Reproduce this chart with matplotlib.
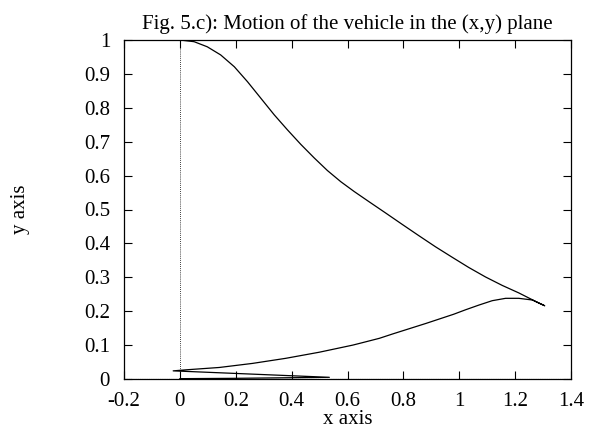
import matplotlib
matplotlib.use("Agg")
import matplotlib.pyplot as plt

# Trajectory of the vehicle
x_path = [0.0, 0.051, 0.098, 0.146, 0.195, 0.242, 0.290, 0.338, 0.385, 0.433, 0.481,
          0.528, 0.576, 0.624, 0.677, 0.736, 0.796, 0.855, 0.915, 0.975, 1.034,
          1.094, 1.154, 1.213, 1.273, 1.306,
          1.262, 1.213, 1.166, 1.118, 1.070, 1.022, 0.980, 0.881, 0.762, 0.714,
          0.643, 0.619, 0.499, 0.379, 0.260, 0.141, 0.021, -0.024,
          0.535, 0.20, 0.0]
y_path = [1.0, 0.995, 0.980, 0.956, 0.921, 0.877, 0.828, 0.779, 0.735, 0.692, 0.652,
          0.615, 0.582, 0.553, 0.523, 0.490, 0.456, 0.423, 0.390, 0.359, 0.329,
          0.301, 0.276, 0.254, 0.229, 0.216,
          0.233, 0.238, 0.238, 0.231, 0.218, 0.204, 0.191, 0.164, 0.133, 0.120,
          0.105, 0.100, 0.079, 0.061, 0.046, 0.034, 0.027, 0.024,
          0.005, 0.002, 0.001]

x_ticks = [-0.2, 0, 0.2, 0.4, 0.6, 0.8, 1, 1.2, 1.4]
y_ticks = [0, 0.1, 0.2, 0.3, 0.4, 0.5, 0.6, 0.7, 0.8, 0.9, 1]

FS = 15
plt.rcParams['font.family'] = ['Liberation Serif', 'DejaVu Serif']
plt.rcParams['font.size'] = FS

fig = plt.figure(figsize=(5.91, 4.32), dpi=100)
ax = fig.add_axes([124/591, 1-379/432, (571-124)/591, (379-40)/432])

# zero axes (dotted)
ax.axhline(0, color='#555555', lw=0.8, ls=(0, (1, 1)), zorder=1)
ax.plot([0, 0], [0, 1], color='black', lw=0.6, ls=(0, (1, 1.5)), zorder=1)

ax.plot(x_path, y_path, color='black', lw=0.9, zorder=2,
        solid_joinstyle='round')

ax.set_xlim(-0.2, 1.4)
ax.set_ylim(0, 1)
ax.set_xticks(x_ticks)
ax.set_yticks(y_ticks)
ax.set_xticklabels(['%g' % v for v in x_ticks])
ax.set_yticklabels(['%g' % v for v in y_ticks])
ax.tick_params(direction='in', length=6, width=0.8, top=True, right=True,
               labelsize=FS)
ax.tick_params(axis='x', pad=9)
ax.tick_params(axis='y', pad=10)
for s in ax.spines.values():
    s.set_linewidth(0.9)

ax.set_title('Fig. 5.c): Motion of the vehicle in the (x,y) plane', fontsize=FS, pad=8)
ax.set_xlabel('x axis', fontsize=FS, va='center')
ax.xaxis.set_label_coords(0.5, (379 - 420) / 339)
ax.set_ylabel('y axis', fontsize=FS, va='center')
ax.yaxis.set_label_coords((20 - 124) / 447, 0.5)

fig.savefig('out.png', dpi=100)
